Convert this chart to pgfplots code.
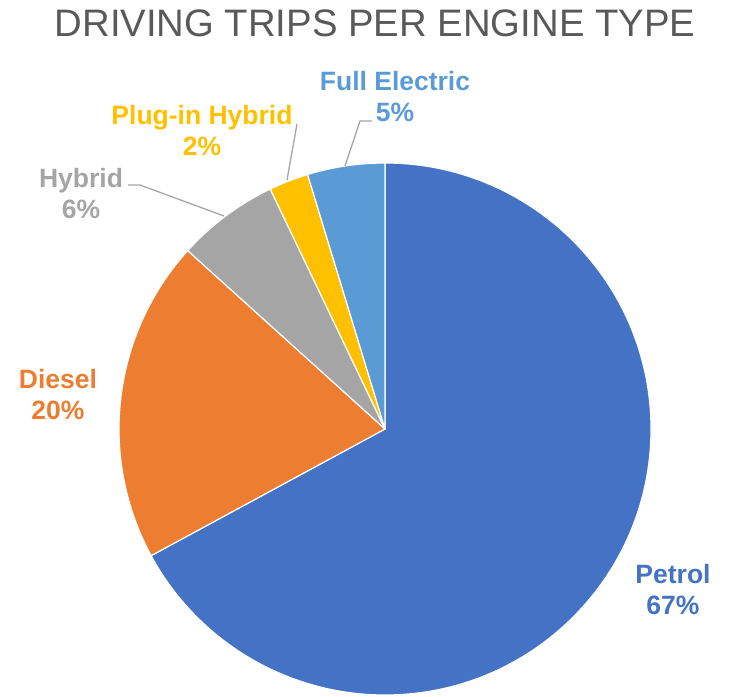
\documentclass[border=0pt]{standalone}
\usepackage{pgfplots}
\usepackage{pgfplotstable}
\pgfplotsset{compat=1.18}
\usepackage{fontspec}
\setmainfont{Liberation Sans}
\definecolor{cPetrol}{HTML}{4472C4}
\definecolor{cDiesel}{HTML}{ED7D31}
\definecolor{cHybrid}{HTML}{A5A5A5}
\definecolor{cPlug}{HTML}{FFC000}
\definecolor{cElec}{HTML}{5B9BD5}
\definecolor{cTitle}{HTML}{595959}
\definecolor{cLead}{HTML}{A6A6A6}

\pgfplotstableread{
name share
Petrol 67.1
Diesel 19.6
Hybrid 6.2
Plugin 2.4
Electric 4.7
}\sharetable

\pgfplotstablegetelem{0}{share}\of\sharetable \let\sA\pgfplotsretval
\pgfplotstablegetelem{1}{share}\of\sharetable \let\sB\pgfplotsretval
\pgfplotstablegetelem{2}{share}\of\sharetable \let\sC\pgfplotsretval
\pgfplotstablegetelem{3}{share}\of\sharetable \let\sD\pgfplotsretval
\pgfplotstablegetelem{4}{share}\of\sharetable \let\sE\pgfplotsretval
\pgfmathsetmacro\aO{90}
\pgfmathsetmacro\aA{\aO-3.6*\sA}
\pgfmathsetmacro\aB{\aA-3.6*\sB}
\pgfmathsetmacro\aC{\aB-3.6*\sC}
\pgfmathsetmacro\aD{\aC-3.6*\sD}
\pgfmathsetmacro\aE{\aD-3.6*\sE}

\newcommand{\sector}[3]{%
  \fill[#3, draw=white, line width=1.2pt, line join=round]
    (axis cs:385,267) -- ++(#1:266pt) arc[start angle=#1, end angle=#2, radius=266pt] -- cycle;}

\begin{document}
\begin{tikzpicture}
\begin{axis}[
  width=730pt, height=696pt, scale only axis,
  xmin=0, xmax=730, ymin=0, ymax=696,
  hide axis, clip=false,
]
\path (axis cs:0,0) rectangle (axis cs:730,696);
\sector{\aO}{\aA}{cPetrol}
\sector{\aA}{\aB}{cDiesel}
\sector{\aB}{\aC}{cHybrid}
\sector{\aC}{\aD}{cPlug}
\sector{\aD}{\aE}{cElec}

\node[anchor=base, text=cTitle, font=\fontsize{38.3}{44}\selectfont] at (axis cs:375,659) {DRIVING TRIPS PER ENGINE TYPE};

\tikzset{lbl/.style={align=center, font=\bfseries\fontsize{26.5}{31}\selectfont}}
\node[lbl, text=cPetrol] at (axis cs:673,106) {Petrol\\67\%};
\node[lbl, text=cDiesel] at (axis cs:58,301) {Diesel\\20\%};
\node[lbl, text=cHybrid] at (axis cs:81,502) {Hybrid\\6\%};
\node[lbl, text=cPlug] at (axis cs:202,565) {Plug-in Hybrid\\2\%};
\node[lbl, text=cElec] at (axis cs:395,599) {Full Electric\\5\%};

\draw[cLead, line width=1.3pt] (axis cs:128,511) -- (axis cs:140,511) -- (axis cs:224,480);
\draw[cLead, line width=1.3pt] (axis cs:297,572) -- (axis cs:287,516);
\draw[cLead, line width=1.3pt] (axis cs:372,575) -- (axis cs:360,575) -- (axis cs:345,530);
\end{axis}
\end{tikzpicture}
\end{document}
